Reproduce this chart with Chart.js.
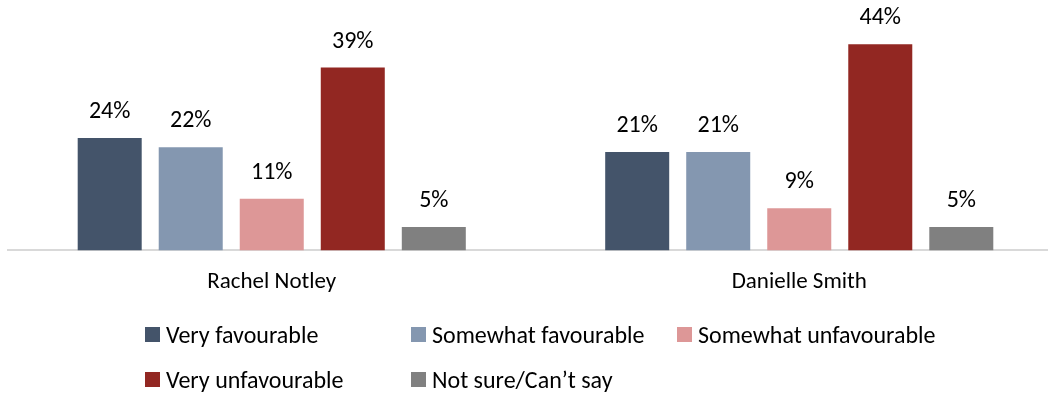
<!DOCTYPE html>
<html>
<head>
<meta charset="utf-8">
<script src="https://cdn.jsdelivr.net/npm/chart.js@4.4.1/dist/chart.umd.min.js"></script>
<style>
  html, body { margin: 0; padding: 0; background: #fff; overflow: hidden; }
  #wrap { position: relative; width: 1048px; height: 393px; overflow: hidden; }
  #chartBox { position: absolute; left: 0; top: 0; width: 1063px; height: 321px; }
  #legend {
    position: absolute; left: 145px; top: 322px;
    display: grid; grid-template-columns: 266px 266px 320px; row-gap: 21px;
    font-family: Carlito, Lato, 'Open Sans', sans-serif; font-size: 24px; color: #000;
  }
  .item { display: flex; align-items: center; height: 24px; white-space: nowrap; }
  .sw { width: 15px; height: 15px; margin-right: 6px; flex: none; }
</style>
</head>
<body>
<div id="wrap">
  <div id="chartBox"><canvas id="chart"></canvas></div>
  <div id="legend"></div>
</div>
<script>
const candidates = ['Rachel Notley', 'Danielle Smith'];
const seriesNames = ['Very favourable', 'Somewhat favourable', 'Somewhat unfavourable', 'Very unfavourable', 'Not sure/Can\u2019t say'];
const veryFav = [24, 21];
const somewhatFav = [22, 21];
const somewhatUnfav = [11, 9];
const veryUnfav = [39, 44];
const notSure = [5, 5];

const colors = ['#44546a', '#8497b0', '#dd9797', '#922722', '#808080'];
const fontFamily = "Carlito, Lato, 'Open Sans', sans-serif";

const seriesValues = [veryFav, somewhatFav, somewhatUnfav, veryUnfav, notSure];

// value labels above each bar
const barLabels = {
  id: 'barLabels',
  afterDatasetsDraw(chart) {
    const ctx = chart.ctx;
    ctx.save();
    ctx.font = '24px ' + fontFamily;
    ctx.fillStyle = '#000';
    ctx.textAlign = 'center';
    ctx.textBaseline = 'middle';
    chart.data.datasets.forEach((ds, i) => {
      chart.getDatasetMeta(i).data.forEach((bar, j) => {
        ctx.fillText(ds.data[j] + '%', bar.x, bar.y - 26);
      });
    });
    ctx.restore();
  }
};

new Chart(document.getElementById('chart'), {
  type: 'bar',
  data: {
    labels: candidates,
    datasets: seriesNames.map((name, i) => ({
      label: name,
      data: seriesValues[i],
      backgroundColor: colors[i],
      borderWidth: 0,
      barPercentage: 0.79,
      categoryPercentage: 0.768
    }))
  },
  options: {
    responsive: true,
    maintainAspectRatio: false,
    animation: false,
    layout: { padding: { top: 16, left: 8, right: 0, bottom: 7 } },
    plugins: {
      legend: { display: false },
      tooltip: { enabled: false }
    },
    scales: {
      y: {
        display: false,
        min: 0,
        max: 50
      },
      x: {
        grid: { display: false, drawTicks: false },
        border: { display: true, color: '#d9d9d9', width: 2 },
        ticks: {
          color: '#000',
          padding: 18,
          font: { family: fontFamily, size: 23 }
        }
      }
    }
  },
  plugins: [barLabels]
});

// legend laid out as a grid like the original
const legend = document.getElementById('legend');
seriesNames.forEach((name, i) => {
  const item = document.createElement('div');
  item.className = 'item';
  item.innerHTML = '<span class="sw" style="background:' + colors[i] + '"></span>' + name;
  legend.appendChild(item);
});
</script>
</body>
</html>
